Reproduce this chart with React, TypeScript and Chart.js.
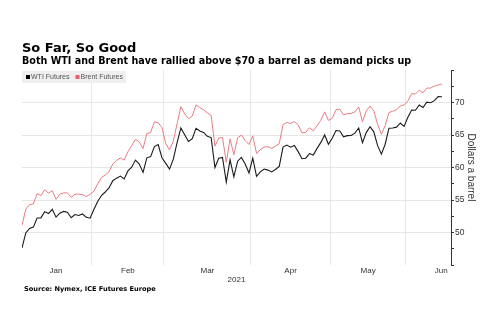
import React, { useEffect, useRef } from "react";
import { Chart, registerables } from "chart.js";

Chart.register(...registerables);

const TITLE = "So Far, So Good";
const SUBTITLE = "Both WTI and Brent have rallied above $70 a barrel as demand picks up";
const SOURCE = "Source: Nymex, ICE Futures Europe";
const YEAR_LABEL = "2021";
const Y_TITLE = "Dollars a barrel";

const monthLabels = ["Jan", "Feb", "Mar", "Apr", "May", "Jun"];
// trading days per month present in the series
const monthTradingDays = [19, 19, 23, 21, 20, 10];

const seriesNames = ["WTI Futures", "Brent Futures"];

const wti = [
  // Jan
  47.62, 49.93, 50.63, 50.83, 52.24, 52.25, 53.21, 52.91, 53.57, 52.36, 52.98, 53.24, 53.13, 52.27, 52.77, 52.61, 52.85, 52.34, 52.2,
  // Feb
  53.55, 54.76, 55.69, 56.23, 56.85, 57.97, 58.36, 58.68, 58.24, 59.47, 60.05, 61.14, 60.52, 59.24, 61.49, 61.67, 63.22, 63.53, 61.5,
  // Mar
  60.64, 59.75, 61.28, 63.83, 66.09, 65.05, 64.01, 64.44, 66.02, 65.61, 65.39, 64.8, 64.6, 60.0, 61.42, 61.55, 57.76, 61.18, 58.56, 60.97, 61.56, 60.55, 59.16,
  // Apr
  61.45, 58.65, 59.33, 59.77, 59.6, 59.32, 59.7, 60.18, 63.15, 63.46, 63.13, 63.38, 62.44, 61.35, 61.43, 62.14, 61.91, 62.94, 63.86, 65.01, 63.58,
  // May
  64.49, 65.69, 65.63, 64.71, 64.9, 64.92, 65.28, 66.08, 63.82, 65.37, 66.27, 65.49, 63.36, 62.05, 63.58, 66.05, 66.07, 66.21, 66.85, 66.32,
  // Jun
  67.72, 68.83, 68.81, 69.62, 69.23, 70.05, 69.96, 70.29, 70.91, 70.88,
];

const brent = [
  // Jan
  51.09, 53.6, 54.3, 54.38, 55.99, 55.66, 56.58, 56.06, 56.42, 55.1, 55.9, 56.08, 56.1, 55.41, 55.88, 55.91, 55.81, 55.53, 55.88,
  // Feb
  56.35, 57.46, 58.46, 58.84, 59.34, 60.56, 61.09, 61.47, 61.14, 62.43, 63.35, 64.34, 63.93, 62.91, 65.24, 65.37, 67.04, 66.88, 66.13,
  // Mar
  63.69, 62.7, 64.07, 66.74, 69.36, 68.24, 67.52, 67.9, 69.63, 69.22, 68.88, 68.39, 68.0, 63.28, 64.53, 64.62, 60.79, 64.41, 61.95, 64.57, 64.98, 64.14, 63.54,
  // Apr
  64.86, 62.15, 62.74, 63.16, 63.2, 62.95, 63.28, 63.67, 66.58, 66.94, 66.77, 67.05, 66.57, 65.32, 65.4, 66.11, 65.65, 66.42, 67.27, 68.56, 67.25,
  // May
  67.56, 68.88, 68.96, 68.09, 68.28, 68.32, 68.55, 69.32, 67.05, 68.71, 69.46, 68.71, 66.66, 65.11, 66.44, 68.46, 68.65, 68.87, 69.46, 69.63,
  // Jun
  70.25, 71.35, 71.31, 71.89, 71.49, 72.22, 72.22, 72.52, 72.69, 72.86,
];

const yLabeledTicks = [50, 55, 60, 65, 70];
const Y_MIN = 45;
const Y_MAX = 75;
const Y_STEP = 2.5;
const X_MAX = 113.4;

const WTI_COLOR = "#1a1a1a";
const BRENT_COLOR = "#ea7c83";
const GRID_COLOR = "#e6e6e6";

// month boundaries (between last trading day of a month and first of next)
const starts: number[] = [];
{
  let acc = 0;
  for (const d of monthTradingDays) {
    starts.push(acc - 0.5);
    acc += d;
  }
}
const boundaries = starts.slice(1);
const labelPositions = monthLabels.map((_, i) => {
  const s = starts[i];
  const e = i + 1 < starts.length ? starts[i + 1] : X_MAX;
  const mid = (s + e) / 2;
  return i === monthLabels.length - 1 ? X_MAX - 2.6 : mid;
});

const overlayPlugin = {
  id: "overlayTexts",
  afterDraw(chart: any) {
    const { ctx, chartArea } = chart;
    ctx.save();
    ctx.textAlign = "left";
    ctx.textBaseline = "alphabetic";
    ctx.fillStyle = "#000";
    ctx.font = 'bold 13px "DejaVu Sans"';
    ctx.fillText(TITLE, 22, 52);
    ctx.font = 'bold 9.6px "DejaVu Sans"';
    ctx.fillText(SUBTITLE, 22, 64);

    // legend
    ctx.fillStyle = "#efefef";
    ctx.fillRect(chartArea.left, 71, 104, 12);
    ctx.font = '7px "Liberation Sans"';
    ctx.textBaseline = "middle";
    let x = chartArea.left + 4;
    chart.data.datasets.forEach((ds: any) => {
      ctx.fillStyle = ds.legendColor || ds.borderColor;
      ctx.fillRect(x, 75, 4, 4);
      x += 5;
      ctx.fillStyle = "#555";
      ctx.fillText(ds.label, x, 77.5);
      x += ctx.measureText(ds.label).width + 6;
    });

    // year label
    ctx.textAlign = "center";
    ctx.fillStyle = "#333";
    ctx.font = '8px "Liberation Sans"';
    ctx.fillText(YEAR_LABEL, (chartArea.left + chartArea.right) / 2, 280);

    // source
    ctx.textAlign = "left";
    ctx.fillStyle = "#000";
    ctx.font = 'bold 6.6px "DejaVu Sans"';
    ctx.fillText(SOURCE, 24, 289);
    ctx.restore();
  },
};

export default function App() {
  const ref = useRef<HTMLCanvasElement | null>(null);

  useEffect(() => {
    document.body.style.margin = "0";
    const canvas = ref.current;
    if (!canvas) return;
    const mk = (arr: number[]) => arr.map((y, i) => ({ x: i, y }));
    const chart = new Chart(canvas, {
      type: "line",
      data: {
        datasets: [
          {
            label: seriesNames[0],
            data: mk(wti),
            borderColor: WTI_COLOR,
            borderWidth: 1.1,
            pointRadius: 0,
            tension: 0,
            legendColor: "#000",
          } as any,
          {
            label: seriesNames[1],
            data: mk(brent),
            borderColor: BRENT_COLOR,
            borderWidth: 1,
            pointRadius: 0,
            tension: 0,
            legendColor: "#e8606a",
          } as any,
        ],
      },
      options: {
        responsive: false,
        animation: false,
        layout: { padding: { left: 22, right: 23, top: 70, bottom: 0 } },
        plugins: {
          legend: { display: false },
          tooltip: { enabled: false },
          title: { display: false },
        },
        scales: {
          x: {
            type: "linear",
            min: 0,
            max: X_MAX,
            afterBuildTicks: (scale: any) => {
              const vals = [...boundaries, ...labelPositions].sort((a, b) => a - b);
              scale.ticks = vals.map((v) => ({ value: v }));
            },
            afterFit: (scale: any) => {
              scale.height = 68;
            },
            border: { display: false },
            grid: {
              drawTicks: false,
              color: (c: any) =>
                c.tick && boundaries.includes(c.tick.value) ? GRID_COLOR : "rgba(0,0,0,0)",
              lineWidth: 1,
            },
            ticks: {
              autoSkip: false,
              maxRotation: 0,
              minRotation: 0,
              padding: 1,
              color: "#333",
              font: { family: "Liberation Sans", size: 8 },
              callback: (value: any) => {
                const i = labelPositions.indexOf(value);
                return i >= 0 ? monthLabels[i] : "";
              },
            },
          },
          y: {
            position: "right",
            min: Y_MIN,
            max: Y_MAX,
            afterFit: (scale: any) => {
              scale.width = 26;
            },
            border: { display: true, color: "#333", width: 1 },
            grid: {
              color: (c: any) =>
                c.tick && yLabeledTicks.includes(c.tick.value) ? GRID_COLOR : "rgba(0,0,0,0)",
              tickColor: "#333",
              tickLength: 3,
              drawTicks: true,
            },
            ticks: {
              stepSize: Y_STEP,
              padding: 1,
              color: "#333",
              font: { family: "Liberation Sans", size: 8.5 },
              callback: (value: any) =>
                yLabeledTicks.includes(Number(value)) ? String(value) : "",
            },
            title: {
              display: true,
              text: Y_TITLE,
              color: "#333",
              padding: 0,
              font: { family: "Liberation Sans", size: 10 },
            },
          },
        },
      },
      plugins: [overlayPlugin],
    });
    return () => chart.destroy();
  }, []);

  return (
    <div style={{ width: 500, height: 333 }}>
      <canvas ref={ref} width={500} height={333} style={{ display: "block" }} />
    </div>
  );
}
